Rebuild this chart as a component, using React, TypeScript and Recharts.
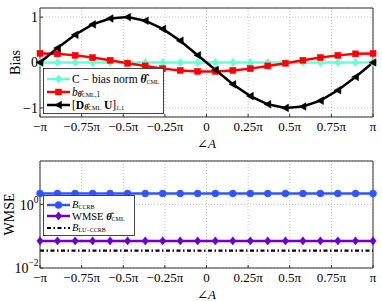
import React from "react";
import { LineChart, Line, XAxis, YAxis, CartesianGrid, Legend, ReferenceLine } from "recharts";

// angle values in units of pi
const angle = [-1, -0.895, -0.789, -0.684, -0.579, -0.474, -0.368, -0.263, -0.158, -0.053, 0.053, 0.158, 0.263, 0.368, 0.474, 0.579, 0.684, 0.789, 0.895, 1];
const xTicks = [-1, -0.75, -0.5, -0.25, 0, 0.25, 0.5, 0.75, 1];
const xTickLabels = ["−π", "−0.75π", "−0.5π", "−0.25π", "0", "0.25π", "0.5π", "0.75π", "π"];

// top panel: bias
const biasNorm = [0, 0, 0, 0, 0, 0, 0, 0, 0, 0, 0, 0, 0, 0, 0, 0, 0, 0, 0, 0];
const biasB = [0.2, 0.19, 0.157, 0.109, 0.049, -0.016, -0.075, -0.135, -0.175, -0.197, -0.197, -0.175, -0.135, -0.075, -0.016, 0.049, 0.109, 0.157, 0.19, 0.2];
const biasD = [0, 0.32, 0.61, 0.84, 0.97, 1.0, 0.92, 0.74, 0.48, 0.16, -0.16, -0.48, -0.74, -0.92, -1.0, -0.97, -0.84, -0.61, -0.32, 0];
const biasTicks = [-1, 0, 1];

// bottom panel: WMSE (log scale)
const bCCRB = [2.2, 2.2, 2.2, 2.2, 2.2, 2.2, 2.2, 2.2, 2.2, 2.2, 2.2, 2.2, 2.2, 2.2, 2.2, 2.2, 2.2, 2.2, 2.2, 2.2];
const wmseCML = [0.071, 0.071, 0.071, 0.071, 0.071, 0.071, 0.071, 0.071, 0.071, 0.071, 0.071, 0.071, 0.071, 0.071, 0.071, 0.071, 0.071, 0.071, 0.071, 0.071];
const bLUCCRB = [0.035, 0.035, 0.035, 0.035, 0.035, 0.035, 0.035, 0.035, 0.035, 0.035, 0.035, 0.035, 0.035, 0.035, 0.035, 0.035, 0.035, 0.035, 0.035, 0.035];
const wmseTicks = [0.01, 1];

const topData = angle.map((x, i) => ({ x, norm: biasNorm[i], b: biasB[i], d: biasD[i] }));
const botData = angle.map((x, i) => ({ x, ccrb: bCCRB[i], wmse: wmseCML[i], lu: bLUCCRB[i] }));

const serif = '"Liberation Serif", "DejaVu Serif", "Times New Roman", serif';
const CYAN = "#66FFD6";
const RED = "#FF0000";
const BLUE = "#2F55FF";
const PURPLE = "#6A00D0";
const AXIS = "#333";

const fmtX = (v: number) => {
  const i = xTicks.indexOf(v);
  return i >= 0 ? xTickLabels[i] : String(v);
};
const fmtBias = (v: number) => (v < 0 ? "−" + Math.abs(v) : String(v));

const diamondShape = (cx: number, cy: number, w: number, h: number, color: string, key?: any) => (
  <polygon key={key} points={`${cx},${cy - h} ${cx + w},${cy} ${cx},${cy + h} ${cx - w},${cy}`} fill={color} stroke={color} strokeWidth={0.5} />
);
const squareShape = (cx: number, cy: number, s: number, color: string, key?: any) => (
  <rect key={key} x={cx - s} y={cy - s} width={2 * s} height={2 * s} fill={color} stroke={color} strokeWidth={0.5} />
);
const triLeftShape = (cx: number, cy: number, s: number, color: string, key?: any) => (
  <polygon key={key} points={`${cx - s},${cy} ${cx + s * 0.8},${cy - s} ${cx + s * 0.8},${cy + s}`} fill={color} stroke={color} strokeWidth={0.5} />
);
const circleShape = (cx: number, cy: number, r: number, color: string, key?: any) => (
  <circle key={key} cx={cx} cy={cy} r={r} fill={color} stroke={color} strokeWidth={0.5} />
);

const CyanDot = (p: any) => (p.cx == null ? <g key={p.index} /> : diamondShape(p.cx, p.cy, 3.2, 4.2, CYAN, p.index));
const RedDot = (p: any) => (p.cx == null ? <g key={p.index} /> : squareShape(p.cx, p.cy, 3, RED, p.index));
const BlackDot = (p: any) => (p.cx == null ? <g key={p.index} /> : triLeftShape(p.cx, p.cy, 3.8, "#000", p.index));
const BlueDot = (p: any) => (p.cx == null ? <g key={p.index} /> : circleShape(p.cx, p.cy, 3.5, BLUE, p.index));
const PurpleDot = (p: any) => (p.cx == null ? <g key={p.index} /> : diamondShape(p.cx, p.cy, 3.2, 4.2, PURPLE, p.index));

const XLabel = (props: any) => {
  const vb = props.viewBox || { x: 40, y: 117, width: 333, height: 33 };
  return (
    <text x={vb.x + vb.width / 2} y={vb.y + vb.height - 2.5} textAnchor="middle" fontFamily={serif} fontSize={13} fill="#000">
      ∠<tspan fontStyle="italic">A</tspan>
    </text>
  );
};

const YLabel = (text: string, bx: number) => (props: any) => {
  const vb = props.viewBox || { x: 0, y: 8, width: 40, height: 109 };
  const cy = vb.y + vb.height / 2;
  return (
    <text x={bx} y={cy} textAnchor="middle" fontFamily={serif} fontSize={14} fill="#000" transform={`rotate(-90, ${bx}, ${cy})`}>
      {text}
    </text>
  );
};

const LogTick = (props: any) => {
  const { x, y, payload } = props;
  const e = Math.round(Math.log10(payload.value));
  const es = e < 0 ? "−" + Math.abs(e) : String(e);
  return (
    <text x={x} y={y} textAnchor="end" fontFamily={serif} fill="#000">
      <tspan fontSize={14} dy="0.38em">10</tspan>
      <tspan fontSize={9.5} dy="-0.75em">{es}</tspan>
    </text>
  );
};

const Sub = ({ children, size = 8 }: any) => (
  <span style={{ fontSize: size, position: "relative", top: "0.2em", lineHeight: 0 }}>{children}</span>
);
const Theta = () => (
  <b>
    <i>θ̂</i>
  </b>
);
const Cml = () => <span style={{ fontSize: 6 }}>CML</span>;

const LegendBox = ({
  rows,
  rowH,
  padTop,
  fontSize,
  width,
}: {
  rows: { icon: React.ReactNode; label: React.ReactNode }[];
  rowH: number;
  padTop: number;
  fontSize: number;
  width: number;
}) => (
  <div
    style={{
      boxSizing: "border-box",
      width,
      border: "1px solid #444",
      background: "#fff",
      fontFamily: serif,
      fontSize,
      color: "#000",
      padding: `${padTop}px 2px 1px 3px`,
      lineHeight: `${rowH}px`,
    }}
  >
    {rows.map((r, i) => (
      <div key={i} style={{ display: "flex", alignItems: "center", height: rowH, whiteSpace: "nowrap" }}>
        <svg width={25} height={10} style={{ flex: "none" }}>
          {r.icon}
        </svg>
        <span style={{ lineHeight: `${rowH}px` }}>{r.label}</span>
      </div>
    ))}
  </div>
);

const topRows = [
  {
    icon: (
      <g>
        <line x1={0} y1={5} x2={23} y2={5} stroke={CYAN} strokeWidth={2.5} />
        {diamondShape(11.5, 5, 3.2, 4.2, CYAN)}
      </g>
    ),
    label: (
      <span>
        C − bias norm <Theta />
        <Sub size={6}>CML</Sub>
      </span>
    ),
  },
  {
    icon: (
      <g>
        <line x1={0} y1={5} x2={23} y2={5} stroke={RED} strokeWidth={2.5} />
        {squareShape(11.5, 5, 3, RED)}
      </g>
    ),
    label: (
      <span>
        <i>b</i>
        <Sub size={7.5}>
          <Theta />
          <Cml />
          ,1
        </Sub>
      </span>
    ),
  },
  {
    icon: (
      <g>
        <line x1={0} y1={5} x2={23} y2={5} stroke="#000" strokeWidth={2.5} />
        {triLeftShape(11.5, 5, 3.8, "#000")}
      </g>
    ),
    label: (
      <span>
        [<b>D</b>
        <Sub size={7.5}>
          <Theta />
          <Cml />
        </Sub>
        <b> U</b>]<Sub size={6.5}>1,1</Sub>
      </span>
    ),
  },
];

const botRows = [
  {
    icon: (
      <g>
        <line x1={0} y1={5} x2={23} y2={5} stroke={BLUE} strokeWidth={2.5} />
        {circleShape(11.5, 5, 3.5, BLUE)}
      </g>
    ),
    label: (
      <span>
        <i>B</i>
        <Sub size={6}>CCRB</Sub>
      </span>
    ),
  },
  {
    icon: (
      <g>
        <line x1={0} y1={5} x2={23} y2={5} stroke={PURPLE} strokeWidth={2.5} />
        {diamondShape(11.5, 5, 3.2, 4.2, PURPLE)}
      </g>
    ),
    label: (
      <span>
        WMSE <Theta />
        <Sub size={6}>CML</Sub>
      </span>
    ),
  },
  {
    icon: (
      <g>
        <line x1={0} y1={5} x2={23} y2={5} stroke="#000" strokeWidth={2.2} strokeDasharray="4 2.5 1.5 2.5" />
      </g>
    ),
    label: (
      <span>
        <i>B</i>
        <Sub size={6}>LU−CCRB</Sub>
      </span>
    ),
  },
];

const xAxisCommon = {
  dataKey: "x",
  type: "number" as const,
  domain: [-1, 1],
  ticks: xTicks,
  tickFormatter: fmtX,
  height: 33,
  stroke: AXIS,
  tickSize: -3,
  tickMargin: 8,
  interval: 0 as const,
  tick: { fill: "#000", fontSize: 13, fontFamily: serif },
};

export default function App() {
  return (
    <div style={{ position: "absolute", left: 0, top: 0, width: 382, height: 301, background: "#fff" }}>
      <div style={{ position: "absolute", left: 0, top: 0 }}>
        <LineChart width={382} height={150} data={topData} margin={{ top: 8, right: 9, bottom: 0, left: 0 }}>
          <CartesianGrid stroke="#c4c4c4" strokeDasharray="1 2" />
          <XAxis {...xAxisCommon} label={<XLabel />} />
          <YAxis
            type="number"
            domain={[-1.2, 1.2]}
            ticks={biasTicks}
            tickFormatter={fmtBias}
            width={40}
            stroke={AXIS}
            tickSize={-3}
            tickMargin={5}
            interval={0}
            tick={{ fill: "#000", fontSize: 14, fontFamily: serif }}
            label={{ content: YLabel("Bias", 20) }}
          />
          <ReferenceLine y={1.2} stroke={AXIS} />
          <ReferenceLine x={1} stroke={AXIS} />
          <Line dataKey="norm" stroke={CYAN} strokeWidth={2.5} dot={CyanDot} isAnimationActive={false} />
          <Line dataKey="b" stroke={RED} strokeWidth={2.5} dot={RedDot} isAnimationActive={false} />
          <Line dataKey="d" stroke="#000" strokeWidth={2.5} dot={BlackDot} isAnimationActive={false} />
          <Legend
            layout="vertical"
            align="center"
            verticalAlign="middle"
            wrapperStyle={{ left: 43, top: 68, width: "auto", height: "auto" }}
            content={() => <LegendBox rows={topRows} rowH={13} padTop={3.5} fontSize={11.5} width={121} />}
          />
        </LineChart>
      </div>
      <div style={{ position: "absolute", left: 0, top: 150 }}>
        <LineChart width={382} height={151} data={botData} margin={{ top: 11, right: 9, bottom: 0, left: 0 }}>
          <CartesianGrid stroke="#c4c4c4" strokeDasharray="1 2" />
          <XAxis {...xAxisCommon} label={<XLabel />} />
          <YAxis
            type="number"
            scale="log"
            domain={[0.01, 23]}
            allowDataOverflow
            ticks={wmseTicks}
            width={40}
            stroke={AXIS}
            tickSize={-3}
            tickMargin={4.5}
            interval={0}
            tick={<LogTick />}
            label={{ content: YLabel("WMSE", 13.5) }}
          />
          <ReferenceLine y={23} stroke={AXIS} />
          <ReferenceLine x={1} stroke={AXIS} />
          <Line dataKey="ccrb" stroke={BLUE} strokeWidth={2.5} dot={BlueDot} isAnimationActive={false} />
          <Line dataKey="wmse" stroke={PURPLE} strokeWidth={2.5} dot={PurpleDot} isAnimationActive={false} />
          <Line dataKey="lu" stroke="#000" strokeWidth={2.2} strokeDasharray="4 2.5 1.5 2.5" dot={false} isAnimationActive={false} />
          <Legend
            layout="vertical"
            align="center"
            verticalAlign="middle"
            wrapperStyle={{ left: 43, top: 45, width: "auto", height: "auto" }}
            content={() => <LegendBox rows={botRows} rowH={11.5} padTop={3} fontSize={10.5} width={92} />}
          />
        </LineChart>
      </div>
    </div>
  );
}
